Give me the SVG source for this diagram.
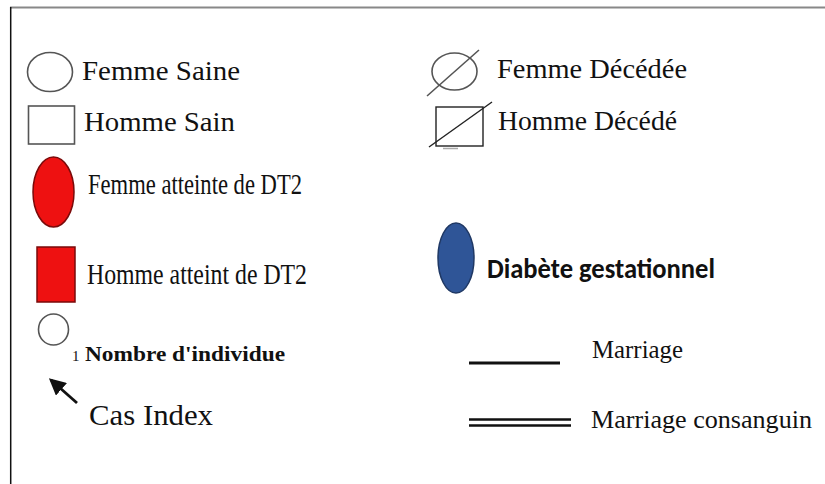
<svg xmlns="http://www.w3.org/2000/svg" width="825" height="484" viewBox="0 0 825 484">
<style>
.t{font-family:"Liberation Serif","Times New Roman",serif;fill:#111;}
.o{fill:none;stroke:#555;stroke-width:1.6;}
.k{stroke:#222;stroke-width:1.4;fill:none;}
.red{fill:#ee1111;stroke:#7a0a0a;stroke-width:1.5;}
</style>
<defs>
<marker id="ah" markerWidth="6" markerHeight="6" refX="5" refY="3" orient="auto" markerUnits="strokeWidth">
<path d="M0,0 L6,3 L0,6 z" fill="#111"/>
</marker>
</defs>
<rect width="825" height="484" fill="#fff"/>
<line x1="10" y1="7.5" x2="825" y2="7.5" stroke="#888" stroke-width="2"/>
<line x1="10.7" y1="7" x2="10.7" y2="484" stroke="#111" stroke-width="1.5"/>

<g id="femme-saine">
<ellipse cx="50" cy="72" rx="22.5" ry="19.5" class="o"/>
<text class="t" x="82" y="80" font-size="27" textLength="158" lengthAdjust="spacingAndGlyphs">Femme Saine</text>
</g>
<g id="homme-sain">
<rect x="28.5" y="106" width="46" height="38" class="o"/>
<text class="t" x="84" y="131" font-size="27" textLength="151" lengthAdjust="spacingAndGlyphs">Homme Sain</text>
</g>
<g id="femme-decedee">
<ellipse cx="454.5" cy="71.5" rx="22.5" ry="18.5" class="o"/>
<line x1="427" y1="96" x2="479" y2="50" class="o"/>
<text class="t" x="497" y="78" font-size="27" textLength="190" lengthAdjust="spacingAndGlyphs">Femme Décédée</text>
</g>
<g id="homme-decede">
<rect x="436" y="107" width="47" height="39" class="k"/>
<line x1="429" y1="147" x2="492" y2="102" class="k"/>
<line x1="443" y1="148.5" x2="458" y2="148.5" stroke="#aaa" stroke-width="1.5"/>
<text class="t" x="498" y="130" font-size="27" textLength="179" lengthAdjust="spacingAndGlyphs">Homme Décédé</text>
</g>
<g id="femme-dt2">
<ellipse cx="53.5" cy="192" rx="20.5" ry="35" class="red"/>
<text class="t" x="88" y="194" font-size="30" textLength="214" lengthAdjust="spacingAndGlyphs">Femme atteinte de DT2</text>
</g>
<g id="homme-dt2">
<rect x="37" y="247" width="38" height="55" class="red"/>
<text class="t" x="87" y="284" font-size="30" textLength="220" lengthAdjust="spacingAndGlyphs">Homme atteint de DT2</text>
</g>
<g id="diabete-gestationnel">
<ellipse cx="456" cy="258" rx="18" ry="35" fill="#2f5597" stroke="#1f3864" stroke-width="1.5"/>
<text x="487" y="278" font-family="Carlito,'Liberation Sans',Arial,sans-serif" font-weight="bold" font-size="28" fill="#111" textLength="228" lengthAdjust="spacingAndGlyphs">Diabète gestationnel</text>
</g>
<g id="nombre-individu">
<ellipse cx="53.5" cy="329.5" rx="15" ry="15.5" class="o"/>
<text class="t" x="72" y="361" font-size="15">1</text>
<text class="t" x="85" y="361" font-size="22" font-weight="bold" textLength="200" lengthAdjust="spacingAndGlyphs">Nombre d'individue</text>
</g>
<g id="cas-index">
<text class="t" x="89" y="425" font-size="30" textLength="124" lengthAdjust="spacingAndGlyphs">Cas Index</text>
</g>
<g id="marriage">
<text class="t" x="592" y="358" font-size="25" textLength="91" lengthAdjust="spacingAndGlyphs">Marriage</text>
</g>
<g id="marriage-consanguin">
<text class="t" x="591" y="428" font-size="25" textLength="221" lengthAdjust="spacingAndGlyphs">Marriage consanguin</text>
</g>
<g id="connectors">
<line x1="77" y1="403" x2="51" y2="380" stroke="#111" stroke-width="2.8" marker-end="url(#ah)"/>
<line x1="469" y1="363" x2="560" y2="363" stroke="#111" stroke-width="2.8"/>
<line x1="469" y1="419.5" x2="571" y2="419.5" stroke="#111" stroke-width="2.6"/>
<line x1="469" y1="425.5" x2="571" y2="425.5" stroke="#111" stroke-width="2.6"/>
</g>
</svg>
